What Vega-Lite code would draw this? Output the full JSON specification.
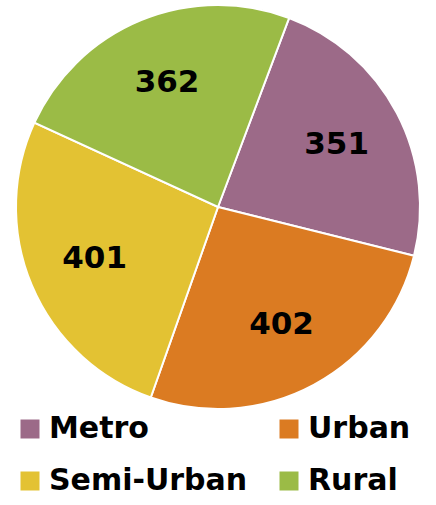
{
  "$schema": "https://vega.github.io/schema/vega-lite/v6.json",
  "width": 436,
  "height": 414,
  "autosize": {"type": "none"},
  "padding": {"left": 0, "top": 0, "right": 0, "bottom": 91},
  "background": "white",
  "config": {"view": {"stroke": null}},
  "data": {
    "values": [
      {"region": "Metro", "count": 351, "order": 1},
      {"region": "Urban", "count": 402, "order": 2},
      {"region": "Semi-Urban", "count": 401, "order": 3},
      {"region": "Rural", "count": 362, "order": 4}
    ]
  },
  "encoding": {
    "theta": {"field": "count", "type": "quantitative", "stack": true, "scale": {"range": [0.36, 6.6432]}},
    "order": {"field": "order", "type": "quantitative"},
    "color": {
      "field": "region",
      "type": "nominal",
      "scale": {
        "domain": ["Metro", "Urban", "Semi-Urban", "Rural"],
        "range": ["#9C6A88", "#DB7B22", "#E3C233", "#9BBB46"]
      },
      "legend": {
        "title": null,
        "orient": "none",
        "legendX": 15,
        "legendY": 414,
        "columns": 2,
        "direction": "horizontal",
        "columnPadding": 26,
        "rowPadding": 22,
        "padding": 0,
        "symbolType": "square",
        "symbolSize": 361,
        "symbolStrokeWidth": 0,
        "symbolOpacity": 1,
        "labelFont": "DejaVu Sans",
        "labelFontWeight": "bold",
        "labelFontSize": 30,
        "labelColor": "black",
        "labelOffset": 4,
        "labelLimit": 400
      }
    }
  },
  "layer": [
    {
      "mark": {"type": "arc", "outerRadius": 202, "stroke": "white", "strokeWidth": 2}
    },
    {
      "mark": {"type": "text", "radius": 134, "font": "DejaVu Sans", "fontWeight": "bold", "fontSize": 31, "color": "black", "baseline": "middle", "align": "center"},
      "encoding": {
        "text": {"field": "count", "type": "quantitative"},
        "color": {"value": "black"}
      }
    }
  ]
}
